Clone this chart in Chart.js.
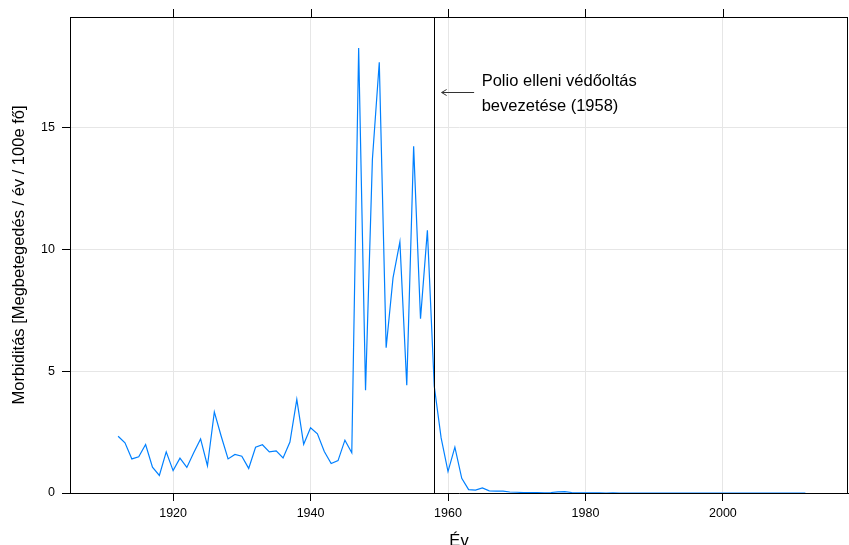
<!DOCTYPE html>
<html>
<head>
<meta charset="utf-8">
<title>Polio morbiditás</title>
<script src="https://cdn.jsdelivr.net/npm/chart.js@4.4.1/dist/chart.umd.min.js"></script>
<style>
  html, body { margin: 0; padding: 0; background: #fff; }
</style>
</head>
<body>
<canvas id="poliochart" width="849" height="545"></canvas>
<script>
// yearly polio morbidity, cases / year / 100 000 people
const years = [
  1912, 1913, 1914, 1915, 1916, 1917, 1918, 1919, 1920, 1921,
  1922, 1923, 1924, 1925, 1926, 1927, 1928, 1929, 1930, 1931,
  1932, 1933, 1934, 1935, 1936, 1937, 1938, 1939, 1940, 1941,
  1942, 1943, 1944, 1945, 1946, 1947, 1948, 1949, 1950, 1951,
  1952, 1953, 1954, 1955, 1956, 1957, 1958, 1959, 1960, 1961,
  1962, 1963, 1964, 1965, 1966, 1967, 1968, 1969, 1970, 1971,
  1972, 1973, 1974, 1975, 1976, 1977, 1978, 1979, 1980, 1981,
  1982, 1983, 1984, 1985, 1986, 1987, 1988, 1989, 1990, 1991,
  1992, 1993, 1994, 1995, 1996, 1997, 1998, 1999, 2000, 2001,
  2002, 2003, 2004, 2005, 2006, 2007, 2008, 2009, 2010, 2011,
  2012
];
const morbidity = [
  2.33, 2.06, 1.40, 1.49, 1.99, 1.06, 0.72, 1.69, 0.92, 1.43,
  1.05, 1.65, 2.22, 1.12, 3.33, 2.33, 1.40, 1.58, 1.51, 1.01,
  1.88, 1.98, 1.69, 1.73, 1.44, 2.09, 3.84, 2.00, 2.68, 2.43,
  1.70, 1.21, 1.33, 2.17, 1.65, 18.27, 4.22, 13.70, 17.68, 5.96,
  8.83, 10.31, 4.42, 14.23, 7.15, 10.78, 4.38, 2.26, 0.88, 1.88,
  0.60, 0.14, 0.12, 0.21, 0.09, 0.08, 0.08, 0.04, 0.03, 0.02,
  0.02, 0.02, 0.01, 0.02, 0.05, 0.06, 0.02, 0.01, 0.01, 0.01,
  0.01, 0.00, 0.01, 0.00, 0.00, 0.00, 0.00, 0.00, 0.00, 0.00,
  0.00, 0.00, 0.00, 0.00, 0.00, 0.00, 0.00, 0.00, 0.00, 0.00,
  0.00, 0.00, 0.00, 0.00, 0.00, 0.00, 0.00, 0.00, 0.00, 0.00,
  0.00
];
const xTicks = [1920, 1940, 1960, 1980, 2000];
const yTicks = [0, 5, 10, 15];

const vaccineYear = 1958;
const noteLines = ['Polio elleni védőoltás', 'bevezetése (1958)'];
const xTitle = 'Év';
const yTitle = 'Morbiditás [Megbetegedés / év / 100e fő]';

const fontFamily = '"Liberation Sans", Arial, Helvetica, sans-serif';

// top axis ticks, right border, 1958 marker, arrow note and axis titles
const framePlugin = {
  id: 'frame',
  afterDraw(chart) {
    const ctx = chart.ctx;
    const area = chart.chartArea;
    const xs = chart.scales.x;
    const ys = chart.scales.y;
    ctx.save();
    ctx.strokeStyle = '#000';
    ctx.lineWidth = 1;

    ctx.beginPath();
    ctx.moveTo(area.left, Math.round(area.top) + 0.5);
    ctx.lineTo(area.right, Math.round(area.top) + 0.5);
    ctx.moveTo(Math.round(area.right) - 0.5, area.top);
    ctx.lineTo(Math.round(area.right) - 0.5, area.bottom);
    xTicks.forEach(v => {
      const px = Math.round(xs.getPixelForValue(v)) + 0.5;
      ctx.moveTo(px, area.top);
      ctx.lineTo(px, area.top - 8);
    });
    ctx.stroke();

    // vaccination year
    const vx = Math.round(xs.getPixelForValue(vaccineYear)) + 0.5;
    ctx.beginPath();
    ctx.moveTo(vx, area.top);
    ctx.lineTo(vx, area.bottom);
    ctx.stroke();

    // arrow pointing at the marker
    const ay = Math.round(ys.getPixelForValue(16.45)) + 0.5;
    const tip = xs.getPixelForValue(1959.07);
    const tail = xs.getPixelForValue(1963.8);
    ctx.strokeStyle = '#333';
    ctx.beginPath();
    ctx.moveTo(tail, ay);
    ctx.lineTo(tip, ay);
    ctx.moveTo(tip + 5, ay - 3);
    ctx.lineTo(tip, ay);
    ctx.lineTo(tip + 5, ay + 3);
    ctx.stroke();

    ctx.fillStyle = '#000';
    ctx.font = '16.5px ' + fontFamily;
    ctx.textAlign = 'left';
    ctx.textBaseline = 'alphabetic';
    const tx = xs.getPixelForValue(1964.9);
    const ty = ys.getPixelForValue(16.69);
    noteLines.forEach((line, i) => ctx.fillText(line, tx, ty + i * 25));

    // axis titles
    ctx.textAlign = 'center';
    ctx.fillText(xTitle, (area.left + area.right) / 2, 546);
    ctx.translate(19, (area.top + area.bottom) / 2);
    ctx.rotate(-Math.PI / 2);
    ctx.textBaseline = 'middle';
    ctx.fillText(yTitle, 0, 0);
    ctx.restore();
  }
};

new Chart(document.getElementById('poliochart'), {
  type: 'line',
  data: {
    datasets: [{
      label: 'morbiditás',
      data: years.map((y, i) => ({ x: y, y: morbidity[i] })),
      borderColor: '#0080ff',
      borderWidth: 1.2,
      pointRadius: 0,
      tension: 0,
      fill: false
    }]
  },
  options: {
    responsive: false,
    animation: false,
    devicePixelRatio: 1,
    layout: { padding: { top: 17, right: 1, left: 0, bottom: 0 } },
    plugins: {
      legend: { display: false },
      tooltip: { enabled: false }
    },
    scales: {
      x: {
        type: 'linear',
        min: 1905,
        max: 2018.2,
        afterBuildTicks: s => { s.ticks = xTicks.map(v => ({ value: v })); },
        afterFit: s => { s.height = 52; },
        grid: { color: '#e6e6e6', tickColor: '#000', tickLength: 8 },
        border: { display: true, color: '#000' },
        ticks: {
          color: '#000',
          padding: 5,
          maxRotation: 0,
          autoSkip: false,
          font: { family: fontFamily, size: 12.5 },
          callback: v => String(v)
        }
      },
      y: {
        type: 'linear',
        min: 0,
        max: 19.54,
        afterBuildTicks: s => { s.ticks = yTicks.map(v => ({ value: v })); },
        afterFit: s => { s.width = 70; },
        grid: { color: '#e6e6e6', tickColor: '#000', tickLength: 8 },
        border: { display: true, color: '#000' },
        ticks: {
          color: '#000',
          padding: 7,
          font: { family: fontFamily, size: 12.5 },
          callback: v => String(v)
        }
      }
    }
  },
  plugins: [framePlugin]
});
</script>
</body>
</html>
